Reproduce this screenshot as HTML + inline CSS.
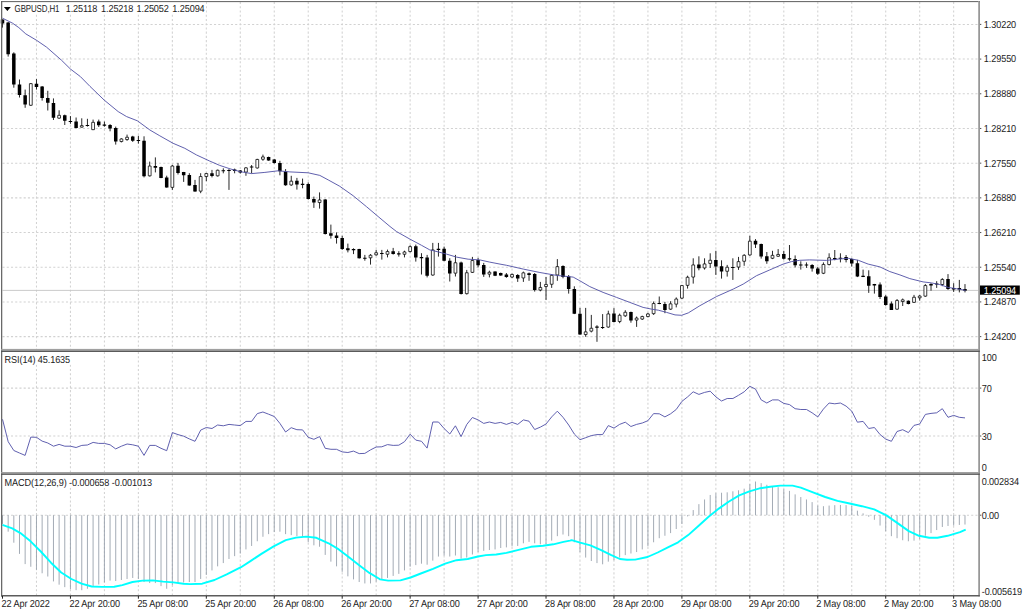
<!DOCTYPE html><html><head><meta charset="utf-8"><title>GBPUSD,H1</title>
<style>html,body{margin:0;padding:0;background:#fff;overflow:hidden}svg{display:block}text{font-family:"Liberation Sans",sans-serif;font-size:9.15px;fill:#1c1c1c;letter-spacing:-0.1px;text-rendering:geometricPrecision}</style></head><body>
<svg width="1024" height="613" viewBox="0 0 1024 613">
<rect width="1024" height="613" fill="#fff"/>
<path d="M36.47 2V349M36.47 352V472M36.47 475V595M70.44 2V349M70.44 352V472M70.44 475V595M104.41 2V349M104.41 352V472M104.41 475V595M138.38 2V349M138.38 352V472M138.38 475V595M172.35 2V349M172.35 352V472M172.35 475V595M206.32 2V349M206.32 352V472M206.32 475V595M240.29 2V349M240.29 352V472M240.29 475V595M274.26 2V349M274.26 352V472M274.26 475V595M308.23 2V349M308.23 352V472M308.23 475V595M342.20 2V349M342.20 352V472M342.20 475V595M376.17 2V349M376.17 352V472M376.17 475V595M410.14 2V349M410.14 352V472M410.14 475V595M444.11 2V349M444.11 352V472M444.11 475V595M478.08 2V349M478.08 352V472M478.08 475V595M512.05 2V349M512.05 352V472M512.05 475V595M546.02 2V349M546.02 352V472M546.02 475V595M579.99 2V349M579.99 352V472M579.99 475V595M613.96 2V349M613.96 352V472M613.96 475V595M647.93 2V349M647.93 352V472M647.93 475V595M681.90 2V349M681.90 352V472M681.90 475V595M715.87 2V349M715.87 352V472M715.87 475V595M749.84 2V349M749.84 352V472M749.84 475V595M783.81 2V349M783.81 352V472M783.81 475V595M817.78 2V349M817.78 352V472M817.78 475V595M851.75 2V349M851.75 352V472M851.75 475V595M885.72 2V349M885.72 352V472M885.72 475V595M919.69 2V349M919.69 352V472M919.69 475V595M953.66 2V349M953.66 352V472M953.66 475V595M2.5 24.40H978M2.5 59.09H978M2.5 93.78H978M2.5 128.47H978M2.5 163.16H978M2.5 197.85H978M2.5 232.54H978M2.5 267.23H978M2.5 301.92H978M2.5 336.61H978M2.5 388.10H978M2.5 436.00H978M2.5 515.20H978" stroke="#d2d2d2" stroke-width="1.05" stroke-dasharray="2.1 2.13" fill="none"/>
<path d="M2.5 290.4H978" stroke="#c8c8c8" stroke-width="0.95"/>
<path d="M2.3 2.1H206V14H2.3zM2.3 352H72.5V364.6H2.3zM2.3 475.2H153.5V487.7H2.3z" fill="#fff"/>
<path d="M2.50 515.20V523.93M8.16 515.20V531.68M13.82 515.20V542.69M19.49 515.20V553.90M25.15 515.20V564.09M30.81 515.20V566.74M36.47 515.20V569.80M42.13 515.20V573.27M47.79 515.20V576.53M53.46 515.20V581.42M59.12 515.20V584.68M64.78 515.20V587.13M70.44 515.20V589.17M76.10 515.20V590.19M81.76 515.20V590.19M87.43 515.20V588.76M93.09 515.20V586.11M98.75 515.20V584.48M104.41 515.20V582.44M110.07 515.20V580.61M115.73 515.20V581.01M121.40 515.20V579.99M127.06 515.20V578.98M132.72 515.20V577.96M138.38 515.20V578.98M144.04 515.20V582.03M149.70 515.20V583.05M155.37 515.20V583.05M161.03 515.20V586.11M166.69 515.20V588.76M172.35 515.20V585.09M178.01 515.20V583.05M183.67 515.20V582.44M189.34 515.20V582.03M195.00 515.20V582.03M200.66 515.20V578.98M206.32 515.20V574.90M211.98 515.20V570.41M217.64 515.20V566.34M223.31 515.20V563.07M228.97 515.20V559.00M234.63 515.20V556.14M240.29 515.20V553.49M245.95 515.20V549.41M251.61 515.20V545.95M257.28 515.20V541.26M262.94 515.20V536.77M268.60 515.20V534.12M274.26 515.20V532.08M279.92 515.20V531.68M285.58 515.20V534.12M291.25 515.20V535.14M296.91 515.20V536.16M302.57 515.20V536.57M308.23 515.20V542.28M313.89 515.20V545.34M319.56 515.20V546.76M325.22 515.20V554.92M330.88 515.20V561.65M336.54 515.20V566.34M342.20 515.20V571.84M347.86 515.20V576.33M353.53 515.20V579.38M359.19 515.20V582.03M364.85 515.20V583.46M370.51 515.20V583.46M376.17 515.20V581.63M381.83 515.20V579.99M387.50 515.20V577.96M393.16 515.20V575.92M398.82 515.20V573.88M404.48 515.20V570.41M410.14 515.20V566.74M415.80 515.20V565.11M421.47 515.20V563.69M427.13 515.20V564.70M432.79 515.20V560.63M438.45 515.20V556.55M444.11 515.20V555.53M449.77 515.20V556.55M455.44 515.20V555.53M461.10 515.20V558.59M466.76 515.20V557.57M472.42 515.20V554.51M478.08 515.20V552.06M483.74 515.20V550.84M489.41 515.20V550.03M495.07 515.20V549.41M500.73 515.20V547.99M506.39 515.20V547.38M512.05 515.20V546.36M517.71 515.20V545.95M523.38 515.20V543.30M529.04 515.20V541.87M534.70 515.20V543.30M540.36 515.20V544.32M546.02 515.20V543.91M551.68 515.20V540.65M557.35 515.20V536.16M563.01 515.20V534.53M568.67 515.20V536.16M574.33 515.20V542.28M579.99 515.20V552.06M585.66 515.20V557.57M591.32 515.20V561.03M596.98 515.20V563.07M602.64 515.20V564.30M608.30 515.20V561.65M613.96 515.20V560.22M619.63 515.20V557.57M625.29 515.20V555.12M630.95 515.20V553.49M636.61 515.20V552.06M642.27 515.20V549.41M647.93 515.20V546.36M653.60 515.20V542.28M659.26 515.20V538.20M664.92 515.20V535.75M670.58 515.20V533.10M676.24 515.20V529.03M681.90 515.20V523.93M687.57 515.20V516.39M693.23 515.20V510.07M698.89 515.20V504.15M704.55 515.20V499.46M710.21 515.20V494.98M715.87 515.20V493.35M721.54 515.20V492.74M727.20 515.20V492.33M732.86 515.20V491.31M738.52 515.20V490.29M744.18 515.20V488.66M749.84 515.20V484.17M755.51 515.20V481.52M761.17 515.20V483.15M766.83 515.20V484.79M772.49 515.20V486.21M778.15 515.20V487.23M783.81 515.20V489.27M789.48 515.20V490.90M795.14 515.20V494.37M800.80 515.20V497.02M806.46 515.20V499.46M812.12 515.20V502.12M817.78 515.20V505.58M823.45 515.20V506.19M829.11 515.20V505.58M834.77 515.20V505.17M840.43 515.20V504.97M846.09 515.20V505.17M851.75 515.20V505.99M857.42 515.20V510.68M863.08 515.20V513.33M868.74 515.20V516.79M874.40 515.20V519.85M880.06 515.20V525.56M885.73 515.20V531.07M891.39 515.20V536.16M897.05 515.20V538.20M902.71 515.20V540.24M908.37 515.20V541.26M914.03 515.20V540.65M919.70 515.20V539.22M925.36 515.20V535.75M931.02 515.20V533.10M936.68 515.20V530.05M942.34 515.20V526.99M948.00 515.20V525.97M953.67 515.20V525.56M959.33 515.20V524.95M964.99 515.20V524.54" stroke="#98a2ad" stroke-width="0.9" fill="none"/>
<polyline points="2.4,524.9 12.2,528.4 20.4,533.1 30.6,541.3 40.8,551.5 51.0,562.7 61.2,572.5 71.4,579.0 81.5,583.7 91.7,586.5 101.9,586.9 114.2,586.7 122.3,585.1 132.5,582.0 142.7,580.6 152.9,580.4 163.1,581.6 173.3,582.4 183.5,583.7 190.0,584.1 202.2,583.7 214.5,580.0 226.7,574.3 241.0,567.2 251.2,560.6 261.4,553.9 273.6,546.4 285.8,540.2 296.0,537.6 306.2,536.6 316.4,537.8 328.6,543.3 338.8,549.4 349.0,557.2 359.2,565.3 369.4,572.9 379.6,579.0 380.0,579.4 388.2,580.6 400.4,580.4 410.6,577.5 420.8,573.5 433.0,568.8 445.2,563.7 456.5,560.2 467.7,559.0 477.9,556.5 486.0,555.1 496.2,554.5 506.4,552.9 518.6,549.8 530.9,546.8 543.1,545.7 553.3,544.3 563.5,541.9 570.0,540.6 571.6,540.2 580.2,542.7 590.4,545.3 600.6,549.8 610.8,554.9 619.9,559.0 627.1,559.8 635.2,559.6 647.5,557.0 657.7,552.5 667.9,547.4 678.1,542.3 688.2,535.1 698.4,526.0 708.6,516.8 718.8,508.6 729.0,501.5 739.2,495.4 749.4,491.3 759.6,488.3 760.0,488.3 770.2,486.8 780.4,485.6 792.6,485.6 800.8,487.6 813.0,492.3 825.2,497.0 837.5,500.9 849.7,503.5 861.9,506.2 874.2,509.3 886.4,515.4 898.6,523.9 908.8,531.1 919.0,535.8 929.2,537.8 937.4,537.8 947.6,535.8 960.0,532.1 965.7,529.6" stroke="#00ffff" stroke-width="1.9" fill="none" stroke-linejoin="round"/>
<polyline points="2.5,419.3 8.2,441.7 13.8,450.5 19.5,453.0 25.1,455.4 30.8,437.1 36.5,437.3 42.1,441.1 47.8,443.0 53.5,446.2 59.1,444.4 64.8,446.2 70.4,446.2 76.1,447.5 81.8,445.4 87.4,445.0 93.1,442.4 98.7,443.4 104.4,443.4 110.1,444.8 115.7,448.9 121.4,446.2 127.1,444.0 132.7,444.8 138.4,446.2 144.0,455.4 149.7,445.4 155.4,445.4 161.0,448.3 166.7,450.7 172.4,432.6 178.0,434.6 183.7,436.2 189.3,438.9 195.0,441.3 200.7,430.1 206.3,427.5 212.0,428.5 217.6,425.0 223.3,425.8 229.0,424.4 234.6,425.0 240.3,425.6 246.0,421.4 251.6,421.4 257.3,413.6 262.9,412.0 268.6,414.2 274.3,416.5 279.9,423.4 285.6,432.0 291.2,427.7 296.9,429.7 302.6,429.9 308.2,437.3 313.9,439.3 319.6,436.6 325.2,448.3 330.9,449.3 336.5,449.3 342.2,451.9 347.9,452.5 353.5,451.1 359.2,453.6 364.8,453.4 370.5,449.9 376.2,447.0 381.8,446.8 387.5,444.6 393.2,445.4 398.8,445.2 404.5,441.7 410.1,434.2 415.8,440.1 421.5,441.3 427.1,448.1 432.8,422.0 438.5,422.0 444.1,428.5 449.8,434.0 455.4,425.8 461.1,436.6 466.8,424.4 472.4,417.5 478.1,419.9 483.7,423.4 489.4,422.0 495.1,423.4 500.7,422.4 506.4,424.4 512.1,422.4 517.7,424.4 523.4,419.9 529.0,421.2 534.7,429.5 540.4,427.1 546.0,424.0 551.7,416.9 557.3,411.2 563.0,417.3 568.7,425.0 574.3,434.0 580.0,439.7 585.7,437.7 591.3,435.6 597.0,434.6 602.6,434.6 608.3,425.6 614.0,428.1 619.6,424.4 625.3,422.2 630.9,426.5 636.6,424.4 642.3,423.0 647.9,420.7 653.6,413.6 659.3,413.8 664.9,416.9 670.6,413.8 676.2,409.5 681.9,401.4 687.6,396.9 693.2,391.8 698.9,394.4 704.6,392.4 710.2,391.2 715.9,396.9 721.5,401.0 727.2,398.5 732.9,398.5 738.5,395.3 744.2,391.8 749.8,386.3 755.5,389.1 761.2,399.9 766.8,403.0 772.5,399.9 778.2,399.9 783.8,403.4 789.5,404.6 795.1,408.7 800.8,409.5 806.5,409.5 812.1,412.8 817.8,416.9 823.4,409.1 829.1,403.0 834.8,403.8 840.4,403.0 846.1,406.1 851.8,411.2 857.4,422.2 863.1,421.4 868.7,428.5 874.4,427.5 880.1,434.6 885.7,439.1 891.4,441.3 897.0,431.5 902.7,429.7 908.4,432.6 914.0,425.4 919.7,424.0 925.4,414.4 931.0,413.4 936.7,412.8 942.3,408.7 948.0,417.3 953.7,415.4 959.3,417.3 965.0,417.9" stroke="#5252a8" stroke-width="0.92" fill="none" stroke-linejoin="round"/>
<path d="M2.50 19.40V27.60M8.16 22.00V56.60M13.82 52.30V87.70M19.49 79.50V97.50M25.15 89.60V107.80M30.81 83.00V105.90M36.47 79.10V89.60M42.13 86.00V100.60M47.79 90.80V110.50M53.46 98.40V120.00M59.12 110.30V118.90M64.78 114.60V125.00M70.44 116.10V123.80M76.10 117.50V128.30M81.76 118.30V127.60M87.43 118.80V126.60M93.09 119.60V130.10M98.75 119.60V127.00M104.41 121.60V126.60M110.07 124.10V131.30M115.73 126.60V144.60M121.40 138.30V142.40M127.06 134.60V140.80M132.72 135.80V141.90M138.38 135.80V143.60M144.04 136.30V177.40M149.70 161.60V176.50M155.37 157.40V172.40M161.03 166.60V178.20M166.69 175.70V187.70M172.35 164.90V189.90M178.01 162.90V174.50M183.67 171.90V181.90M189.34 173.20V185.70M195.00 179.90V191.80M200.66 173.20V193.20M206.32 172.90V181.20M211.98 169.90V177.40M217.64 169.60V176.50M223.31 168.30V173.30M228.97 169.10V189.90M234.63 168.60V173.30M240.29 170.00V173.60M245.95 167.00V175.80M251.61 165.00V173.30M257.28 158.80V168.60M262.94 154.60V160.80M268.60 156.60V160.80M274.26 159.10V163.60M279.92 160.80V175.30M285.58 169.10V185.80M291.25 175.80V185.80M296.91 177.90V189.60M302.57 178.60V188.30M308.23 182.40V199.60M313.89 196.60V207.90M319.56 192.40V208.60M325.22 199.10V234.50M330.88 224.60V238.60M336.54 232.40V243.60M342.20 235.80V249.90M347.86 243.60V252.40M353.53 248.30V254.10M359.19 248.80V258.60M364.85 254.90V260.70M370.51 254.10V264.60M376.17 249.90V255.70M381.83 249.90V259.60M387.50 249.60V257.40M393.16 247.90V254.60M398.82 251.20V256.60M404.48 250.70V257.40M410.14 245.30V252.40M415.80 244.60V261.60M421.47 253.20V274.50M427.13 254.90V277.40M432.79 242.90V275.70M438.45 242.90V256.60M444.11 246.60V261.20M449.77 258.20V281.50M455.44 254.90V276.50M461.10 261.60V294.50M466.76 269.90V294.50M472.42 256.90V272.90M478.08 257.90V267.40M483.74 262.90V276.90M489.41 270.70V277.40M495.07 271.30V276.10M500.73 272.60V275.80M506.39 273.00V277.80M512.05 273.60V277.80M517.71 274.10V281.90M523.38 271.60V281.90M529.04 272.50V280.80M534.70 273.00V291.60M540.36 281.90V291.30M546.02 276.90V299.90M551.68 274.10V287.90M557.35 259.10V280.80M563.01 265.30V278.30M568.67 275.00V293.60M574.33 286.30V314.10M579.99 307.90V334.90M585.66 307.90V336.80M591.32 314.90V332.40M596.98 325.20V341.80M602.64 314.10V329.00M608.30 310.70V327.70M613.96 308.20V322.40M619.63 313.60V323.20M625.29 310.20V316.90M630.95 311.60V322.70M636.61 316.50V326.90M642.27 315.70V319.90M647.93 312.90V317.40M653.60 301.50V314.90M659.26 296.50V304.20M664.92 301.90V313.20M670.58 301.20V309.90M676.24 297.40V307.40M681.90 284.90V299.00M687.57 275.70V288.60M693.23 258.30V283.60M698.89 256.30V270.30M704.55 258.30V269.60M710.21 253.30V267.90M715.87 250.80V274.90M721.54 260.30V278.60M727.20 264.90V276.60M732.86 258.30V279.90M738.52 256.90V269.90M744.18 254.10V265.80M749.84 235.80V255.80M755.51 239.10V248.00M761.17 243.60V258.60M766.83 252.00V263.80M772.49 250.80V259.10M778.15 249.10V256.90M783.81 250.80V259.60M789.48 245.00V260.80M795.14 255.40V267.40M800.80 261.30V269.60M806.46 262.40V267.90M812.12 264.10V271.60M817.78 266.90V274.90M823.45 262.40V274.10M829.11 253.30V265.40M834.77 250.00V260.30M840.43 253.30V262.40M846.09 255.00V262.40M851.75 258.30V266.60M857.42 259.90V277.10M863.08 269.60V277.10M868.74 270.30V292.90M874.40 283.90V293.60M880.06 282.40V299.00M885.73 295.20V305.70M891.39 301.50V310.00M897.05 299.00V309.90M902.71 298.50V306.00M908.37 300.40V304.40M914.03 294.90V302.90M919.70 295.20V300.70M925.36 284.10V296.90M931.02 283.20V290.70M936.68 281.20V287.90M942.34 278.20V286.20M948.00 274.10V289.90M953.67 283.20V291.90M959.33 279.90V292.40M964.99 284.10V292.40" stroke="#000" stroke-width="0.85" fill="none"/>
<path d="M0.75 19.60h3.50V23.50h-3.50zM6.41 22.60h3.50V54.20h-3.50zM12.07 53.60h3.50V84.50h-3.50zM17.74 84.50h3.50V95.00h-3.50zM23.40 95.20h3.50V104.60h-3.50zM34.72 83.70h3.50V87.00h-3.50zM40.38 86.40h3.50V98.00h-3.50zM46.04 98.10h3.50V102.80h-3.50zM51.71 103.00h3.50V117.80h-3.50zM63.03 115.30h3.50V120.80h-3.50zM68.69 121.10h3.50V122.10h-3.50zM74.35 121.60h3.50V128.00h-3.50zM85.68 125.00h3.50V126.00h-3.50zM97.00 121.60h3.50V125.30h-3.50zM102.66 124.60h3.50V125.80h-3.50zM108.32 125.00h3.50V128.60h-3.50zM113.98 128.00h3.50V141.60h-3.50zM130.97 136.60h3.50V140.80h-3.50zM136.63 139.90h3.50V140.90h-3.50zM142.29 140.80h3.50V176.20h-3.50zM153.62 166.10h3.50V167.70h-3.50zM159.28 166.90h3.50V177.90h-3.50zM164.94 177.40h3.50V187.40h-3.50zM176.26 165.70h3.50V172.90h-3.50zM181.92 172.00h3.50V175.20h-3.50zM187.59 174.90h3.50V185.40h-3.50zM193.25 184.90h3.50V191.50h-3.50zM210.23 173.20h3.50V175.90h-3.50zM221.56 170.25h3.50V171.25h-3.50zM227.22 169.95h3.50V170.95h-3.50zM232.88 169.50h3.50V171.10h-3.50zM238.54 170.60h3.50V172.40h-3.50zM249.86 166.60h3.50V167.60h-3.50zM266.85 157.10h3.50V160.50h-3.50zM272.51 159.60h3.50V163.00h-3.50zM278.17 163.00h3.50V171.30h-3.50zM283.83 171.60h3.50V185.30h-3.50zM295.16 180.80h3.50V184.60h-3.50zM300.82 183.80h3.50V184.90h-3.50zM306.48 184.10h3.50V199.10h-3.50zM312.14 199.10h3.50V202.40h-3.50zM323.47 199.60h3.50V234.00h-3.50zM329.13 233.30h3.50V235.80h-3.50zM334.79 235.40h3.50V237.90h-3.50zM340.45 237.90h3.50V249.10h-3.50zM346.11 248.30h3.50V250.20h-3.50zM351.78 249.10h3.50V250.20h-3.50zM357.44 249.10h3.50V258.20h-3.50zM363.10 257.70h3.50V258.70h-3.50zM380.08 252.90h3.50V253.90h-3.50zM391.41 251.20h3.50V254.10h-3.50zM397.07 253.20h3.50V254.40h-3.50zM414.05 246.30h3.50V257.40h-3.50zM419.72 256.90h3.50V258.20h-3.50zM425.38 257.40h3.50V275.70h-3.50zM436.70 248.80h3.50V249.90h-3.50zM442.36 248.80h3.50V260.70h-3.50zM448.02 260.70h3.50V273.50h-3.50zM459.35 262.40h3.50V294.00h-3.50zM476.33 259.90h3.50V265.20h-3.50zM481.99 264.90h3.50V274.50h-3.50zM493.32 271.60h3.50V275.80h-3.50zM498.98 273.00h3.50V275.40h-3.50zM504.64 274.60h3.50V277.10h-3.50zM515.96 275.00h3.50V278.60h-3.50zM527.29 273.30h3.50V275.00h-3.50zM532.95 274.10h3.50V289.90h-3.50zM561.26 266.10h3.50V276.90h-3.50zM566.92 276.60h3.50V289.10h-3.50zM572.58 289.10h3.50V313.70h-3.50zM578.24 313.70h3.50V334.50h-3.50zM595.23 326.50h3.50V327.70h-3.50zM600.89 326.95h3.50V327.95h-3.50zM612.21 313.60h3.50V321.90h-3.50zM629.20 312.10h3.50V320.40h-3.50zM657.51 302.90h3.50V304.00h-3.50zM663.17 304.00h3.50V309.90h-3.50zM697.14 264.40h3.50V268.30h-3.50zM714.12 259.90h3.50V266.60h-3.50zM719.79 266.30h3.50V271.60h-3.50zM731.11 266.90h3.50V267.90h-3.50zM753.76 240.80h3.50V244.60h-3.50zM759.42 244.10h3.50V256.60h-3.50zM765.08 256.30h3.50V261.30h-3.50zM782.06 254.10h3.50V258.80h-3.50zM787.73 258.30h3.50V259.60h-3.50zM793.39 259.10h3.50V265.30h-3.50zM799.05 264.40h3.50V265.40h-3.50zM804.71 264.40h3.50V265.40h-3.50zM810.37 264.90h3.50V268.60h-3.50zM816.03 268.40h3.50V273.80h-3.50zM833.02 257.90h3.50V259.30h-3.50zM838.68 257.80h3.50V258.80h-3.50zM844.34 257.10h3.50V259.90h-3.50zM850.00 259.10h3.50V263.60h-3.50zM855.67 263.30h3.50V276.60h-3.50zM861.33 275.70h3.50V276.90h-3.50zM866.99 276.20h3.50V285.70h-3.50zM872.65 284.10h3.50V285.40h-3.50zM878.31 284.60h3.50V297.00h-3.50zM883.98 296.50h3.50V304.90h-3.50zM889.64 303.50h3.50V309.90h-3.50zM906.62 300.70h3.50V304.00h-3.50zM929.27 284.10h3.50V285.40h-3.50zM934.93 283.60h3.50V284.60h-3.50zM946.25 279.10h3.50V289.10h-3.50zM951.92 287.90h3.50V289.40h-3.50zM957.58 287.90h3.50V289.60h-3.50zM963.24 289.10h3.50V290.70h-3.50z" fill="#000"/>
<path d="M29.41 83.65h2.80V105.25h-2.80zM57.72 115.35h2.80V118.15h-2.80zM80.36 125.65h2.80V127.15h-2.80zM91.69 122.35h2.80V129.65h-2.80zM120.00 138.95h2.80V141.55h-2.80zM125.66 137.25h2.80V139.55h-2.80zM148.30 166.05h2.80V175.85h-2.80zM170.95 166.05h2.80V187.35h-2.80zM199.26 176.55h2.80V191.15h-2.80zM204.92 173.55h2.80V176.55h-2.80zM216.24 170.25h2.80V175.85h-2.80zM244.55 167.85h2.80V172.05h-2.80zM255.88 159.45h2.80V167.95h-2.80zM261.54 156.95h2.80V159.25h-2.80zM289.85 181.15h2.80V184.95h-2.80zM318.16 199.95h2.80V202.55h-2.80zM369.11 255.25h2.80V257.85h-2.80zM374.77 252.75h2.80V254.85h-2.80zM386.10 251.55h2.80V254.25h-2.80zM403.08 251.95h2.80V254.25h-2.80zM408.74 246.65h2.80V251.55h-2.80zM431.39 249.95h2.80V275.05h-2.80zM454.04 262.75h2.80V273.15h-2.80zM465.36 272.75h2.80V293.65h-2.80zM471.02 260.55h2.80V272.35h-2.80zM488.01 272.25h2.80V274.15h-2.80zM510.65 274.45h2.80V277.05h-2.80zM521.98 272.85h2.80V277.95h-2.80zM538.96 287.45h2.80V290.05h-2.80zM544.62 284.45h2.80V286.55h-2.80zM550.28 275.35h2.80V284.25h-2.80zM555.95 266.65h2.80V274.95h-2.80zM584.26 331.85h2.80V334.55h-2.80zM589.92 328.25h2.80V331.15h-2.80zM606.90 313.95h2.80V327.05h-2.80zM618.23 315.25h2.80V321.55h-2.80zM623.89 312.25h2.80V315.85h-2.80zM635.21 318.05h2.80V320.05h-2.80zM640.87 316.55h2.80V319.05h-2.80zM646.53 313.95h2.80V316.55h-2.80zM652.20 303.55h2.80V313.65h-2.80zM669.18 303.85h2.80V309.15h-2.80zM674.84 299.05h2.80V304.15h-2.80zM680.50 285.55h2.80V298.15h-2.80zM686.17 277.25h2.80V285.35h-2.80zM691.83 264.95h2.80V277.05h-2.80zM703.15 263.95h2.80V267.95h-2.80zM708.81 260.25h2.80V263.45h-2.80zM725.80 267.25h2.80V271.25h-2.80zM737.12 261.65h2.80V267.05h-2.80zM742.78 255.35h2.80V261.25h-2.80zM748.44 241.15h2.80V254.95h-2.80zM771.09 255.35h2.80V258.25h-2.80zM776.75 254.45h2.80V256.25h-2.80zM822.05 264.45h2.80V273.25h-2.80zM827.71 257.75h2.80V264.55h-2.80zM895.65 300.55h2.80V309.15h-2.80zM901.31 299.85h2.80V301.55h-2.80zM912.63 297.25h2.80V302.35h-2.80zM918.30 296.05h2.80V297.85h-2.80zM923.96 285.55h2.80V296.15h-2.80zM940.94 279.45h2.80V284.55h-2.80z" fill="#fff" stroke="#000" stroke-width="0.75"/>
<polyline points="2.5,18.2 12.6,23.2 18.8,27.6 25.8,33.9 36.4,40.2 46.5,47.1 61.6,60.3 70.4,69.0 80.4,76.6 90.0,86.4 104.1,100.0 118.2,111.6 126.6,116.6 137.4,120.8 149.9,130.0 159.8,135.8 173.1,143.3 184.8,148.3 196.4,154.9 209.8,161.1 219.7,165.4 230.0,168.8 240.0,171.6 251.6,173.6 264.9,172.4 278.2,170.8 289.9,171.9 308.2,172.8 319.8,175.4 328.2,179.9 339.8,186.3 353.1,195.7 366.4,206.6 378.1,216.5 390.0,226.5 396.6,231.6 409.9,239.1 421.5,245.3 429.8,249.9 438.2,251.9 446.5,254.1 456.5,257.1 468.1,259.2 479.8,259.9 489.7,262.1 500.0,264.1 506.6,265.3 523.3,269.1 539.9,272.5 556.6,275.4 573.2,277.1 579.9,280.8 589.8,286.6 603.1,292.4 616.5,297.4 629.8,302.4 643.1,307.4 651.4,309.1 658.3,310.2 666.6,312.4 675.0,314.9 681.6,315.3 688.3,312.9 699.9,305.7 716.6,296.5 733.2,289.1 743.2,284.1 756.5,275.7 769.8,269.9 783.1,264.1 791.4,261.6 799.8,260.3 809.7,259.9 826.6,260.4 838.3,259.1 848.3,258.3 858.3,260.3 868.2,264.1 879.9,266.9 889.9,271.6 899.9,274.9 909.8,278.6 923.1,281.9 931.5,282.9 939.8,284.6 948.1,287.4 956.4,288.7 965.6,290.4" stroke="#5252a6" stroke-width="0.92" fill="none" stroke-linejoin="round"/>
<path d="M1.65 1V596.4" stroke="#666" stroke-width="1.25"/>
<path d="M1.1 1.62H979.8" stroke="#5e5e5e" stroke-width="1.0"/>
<rect x="978.15" y="1.1" width="0.85" height="595.3" fill="#a2a2a2"/>
<rect x="979" y="1.1" width="0.8" height="595.3" fill="#7e7e7e"/>
<rect x="1.1" y="348.9" width="978" height="1.85" fill="#a0a0a0"/>
<rect x="1.1" y="350.7" width="978.7" height="1.25" fill="#525252"/>
<rect x="1.1" y="472.0" width="978" height="1.7" fill="#a0a0a0"/>
<rect x="1.1" y="473.6" width="978.7" height="1.25" fill="#525252"/>
<path d="M1.1 595.75H979.8" stroke="#5c5c5c" stroke-width="1.35"/>
<path d="M980 24.40h1.3M980 59.09h1.3M980 93.78h1.3M980 128.47h1.3M980 163.16h1.3M980 197.85h1.3M980 232.54h1.3M980 267.23h1.3M980 301.92h1.3M980 336.61h1.3M980 388.10h1.3M980 436.00h1.3M980 515.20h1.3M980 290.40h1.3" stroke="#222" stroke-width="0.8"/>
<path d="M2.50 596V598.7M70.44 596V598.7M138.38 596V598.7M206.32 596V598.7M274.26 596V598.7M342.20 596V598.7M410.14 596V598.7M478.08 596V598.7M546.02 596V598.7M613.96 596V598.7M681.90 596V598.7M749.84 596V598.7M817.78 596V598.7M885.72 596V598.7M953.66 596V598.7" stroke="#222" stroke-width="1"/>
<text transform="translate(983.80 27.75) scale(1 1.110)">1.30220</text>
<text transform="translate(983.80 62.44) scale(1 1.110)">1.29550</text>
<text transform="translate(983.80 97.13) scale(1 1.110)">1.28880</text>
<text transform="translate(983.80 131.82) scale(1 1.110)">1.28210</text>
<text transform="translate(983.80 166.51) scale(1 1.110)">1.27550</text>
<text transform="translate(983.80 201.20) scale(1 1.110)">1.26880</text>
<text transform="translate(983.80 235.89) scale(1 1.110)">1.26210</text>
<text transform="translate(983.80 270.58) scale(1 1.110)">1.25540</text>
<text transform="translate(983.80 305.27) scale(1 1.110)">1.24870</text>
<text transform="translate(983.80 339.96) scale(1 1.110)">1.24200</text>
<rect x="980" y="285.5" width="39.8" height="9.2" fill="#000"/>
<text transform="translate(983.80 293.75) scale(1 1.110)" style="fill:#fff">1.25094</text>
<text transform="translate(981.70 361.25) scale(1 1.110)">100</text>
<text transform="translate(981.70 392.05) scale(1 1.110)">70</text>
<text transform="translate(981.70 439.95) scale(1 1.110)">30</text>
<text transform="translate(981.70 471.15) scale(1 1.110)">0</text>
<text transform="translate(981.70 485.05) scale(1 1.110)">0.002834</text>
<text transform="translate(981.70 519.15) scale(1 1.110)">0.00</text>
<text transform="translate(981.70 594.65) scale(1 1.110)">-0.005619</text>
<text transform="translate(1.60 607.40) scale(1 1.110)">22 Apr 2022</text>
<text transform="translate(69.44 607.40) scale(1 1.110)">22 Apr 20:00</text>
<text transform="translate(137.38 607.40) scale(1 1.110)">25 Apr 08:00</text>
<text transform="translate(205.32 607.40) scale(1 1.110)">25 Apr 20:00</text>
<text transform="translate(273.26 607.40) scale(1 1.110)">26 Apr 08:00</text>
<text transform="translate(341.20 607.40) scale(1 1.110)">26 Apr 20:00</text>
<text transform="translate(409.14 607.40) scale(1 1.110)">27 Apr 08:00</text>
<text transform="translate(477.08 607.40) scale(1 1.110)">27 Apr 20:00</text>
<text transform="translate(545.02 607.40) scale(1 1.110)">28 Apr 08:00</text>
<text transform="translate(612.96 607.40) scale(1 1.110)">28 Apr 20:00</text>
<text transform="translate(680.90 607.40) scale(1 1.110)">29 Apr 08:00</text>
<text transform="translate(748.84 607.40) scale(1 1.110)">29 Apr 20:00</text>
<text transform="translate(816.18 607.40) scale(1 1.110)" textLength="49.3" lengthAdjust="spacingAndGlyphs">2 May 08:00</text>
<text transform="translate(884.12 607.40) scale(1 1.110)" textLength="49.3" lengthAdjust="spacingAndGlyphs">2 May 20:00</text>
<text transform="translate(952.06 607.40) scale(1 1.110)" textLength="49.3" lengthAdjust="spacingAndGlyphs">3 May 08:00</text>
<path d="M3.9 7.1H10.8L7.35 11.1z" fill="#000"/>
<text transform="translate(14.60 11.90) scale(1 1.110)" textLength="44.8" lengthAdjust="spacingAndGlyphs">GBPUSD,H1</text>
<text transform="translate(65.70 11.90) scale(1 1.110)">1.25118</text>
<text transform="translate(101.00 11.90) scale(1 1.110)">1.25218</text>
<text transform="translate(136.50 11.90) scale(1 1.110)">1.25052</text>
<text transform="translate(172.30 11.90) scale(1 1.110)">1.25094</text>
<text transform="translate(4.60 362.60) scale(1 1.110)">RSI(14) 45.1635</text>
<text transform="translate(4.60 486.00) scale(1 1.110)">MACD(12,26,9) -0.000658 -0.001013</text>
</svg></body></html>
